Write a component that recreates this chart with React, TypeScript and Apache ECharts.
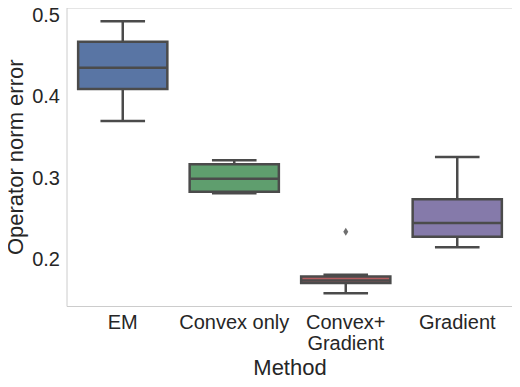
import React, { useEffect, useRef } from "react";
import * as echarts from "echarts";

const categories = ["EM", "Convex only", "Convex+\nGradient", "Gradient"];
// [low whisker, q1, median, q3, high whisker]
const lowWhisker = [0.3696, 0.2807, 0.1577, 0.2143];
const q1 = [0.409, 0.2827, 0.1705, 0.2273];
const median = [0.4352, 0.2987, 0.1735, 0.2442];
const q3 = [0.4672, 0.3164, 0.1785, 0.2733];
const highWhisker = [0.4922, 0.3213, 0.1805, 0.3253];
const boxColors = ["#5975a4", "#5f9e6e", "#b55d60", "#857aaa"];
const outliers: [number, number][] = [[2, 0.2334]];
const yTicks = [0.2, 0.3, 0.4, 0.5];

const EDGE = "#4b4b4b";
const FONT = "Liberation Sans, Arial, sans-serif";

export default function App() {
  const ref = useRef<HTMLDivElement>(null);
  useEffect(() => {
    if (!ref.current) return;
    const chart = echarts.init(ref.current, null, { renderer: "svg" });
    const boxData = categories.map((_, i) => [
      i,
      lowWhisker[i],
      q1[i],
      median[i],
      q3[i],
      highWhisker[i],
    ]);
    chart.setOption({
      animation: false,
      backgroundColor: "#ffffff",
      grid: {
        left: 67,
        right: 7,
        top: 8,
        bottom: 80.5,
        containLabel: false,
        outerBoundsMode: "none",
        show: true,
        borderColor: "#cccccc",
        borderWidth: 1,
        backgroundColor: "transparent",
      },
      xAxis: {
        type: "category",
        data: categories,
        boundaryGap: true,
        axisLine: { show: false },
        axisTick: { show: false },
        splitLine: { show: false },
        axisLabel: {
          color: "#262626",
          fontSize: 20,
          fontFamily: FONT,
          margin: 5,
          lineHeight: 21,
          interval: 0,
        },
        name: "Method",
        nameLocation: "middle",
        nameGap: 50,
        nameMoveOverlap: false,
        nameTextStyle: { color: "#262626", fontSize: 22, fontFamily: FONT },
      },
      yAxis: {
        type: "value",
        min: 0.1415,
        max: 0.5086,
        splitNumber: 4,
        axisLine: { show: false },
        axisTick: { show: false },
        splitLine: { show: false },
        axisLabel: {
          color: "#262626",
          fontSize: 20,
          fontFamily: FONT,
          margin: 7,
          showMinLabel: false,
          showMaxLabel: false,
          formatter: (v: number) => {
            const t = yTicks.find((x) => Math.abs(x - v) < 1e-6);
            return t === undefined ? "" : t.toFixed(1);
          },
        },
        name: "Operator norm error",
        nameLocation: "middle",
        nameGap: 41,
        nameMoveOverlap: false,
        nameTextStyle: { color: "#262626", fontSize: 22, fontFamily: FONT },
      },
      series: [
        {
          type: "custom",
          data: boxData,
          encode: { x: 0, y: [1, 2, 3, 4, 5] },
          renderItem: (params: any, api: any) => {
            const idx = api.value(0);
            const band = api.size([1, 0])[0];
            const boxW = band * 0.8;
            const capW = boxW * 0.5;
            const pLow = api.coord([idx, api.value(1)]);
            const pQ1 = api.coord([idx, api.value(2)]);
            const pMed = api.coord([idx, api.value(3)]);
            const pQ3 = api.coord([idx, api.value(4)]);
            const pHigh = api.coord([idx, api.value(5)]);
            const cx = pLow[0];
            const lw = 2.5;
            const ls = { stroke: EDGE, lineWidth: lw };
            return {
              type: "group",
              children: [
                { type: "line", shape: { x1: cx, y1: pLow[1], x2: cx, y2: pQ1[1] }, style: ls },
                { type: "line", shape: { x1: cx, y1: pQ3[1], x2: cx, y2: pHigh[1] }, style: ls },
                { type: "line", shape: { x1: cx - capW / 2, y1: pLow[1], x2: cx + capW / 2, y2: pLow[1] }, style: ls },
                { type: "line", shape: { x1: cx - capW / 2, y1: pHigh[1], x2: cx + capW / 2, y2: pHigh[1] }, style: ls },
                {
                  type: "rect",
                  shape: { x: cx - boxW / 2, y: pQ3[1], width: boxW, height: pQ1[1] - pQ3[1] },
                  style: { fill: boxColors[idx], stroke: EDGE, lineWidth: lw },
                },
                { type: "line", shape: { x1: cx - boxW / 2, y1: pMed[1], x2: cx + boxW / 2, y2: pMed[1] }, style: ls },
              ],
            };
          },
        },
        {
          type: "scatter",
          data: outliers,
          symbol: "diamond",
          symbolSize: [5, 8],
          itemStyle: { color: EDGE },
        },
      ],
    });
    return () => chart.dispose();
  }, []);
  return <div ref={ref} style={{ width: 520, height: 387, margin: -8 }} />;
}
